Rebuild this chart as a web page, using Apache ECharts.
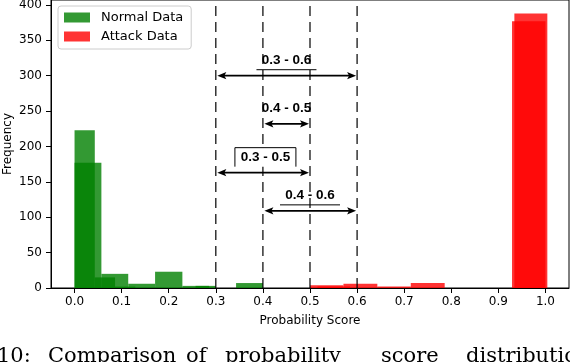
<!DOCTYPE html>
<html><head><meta charset="utf-8">
<script src="https://cdn.jsdelivr.net/npm/echarts@6/dist/echarts.min.js"></script>
<style>html,body{margin:0;padding:0;background:#fff}#c{width:570px;height:362px}</style>
</head><body><div id="c"></div>
<script>
// ---------- data ----------
const xTicks = [0.0, 0.1, 0.2, 0.3, 0.4, 0.5, 0.6, 0.7, 0.8, 0.9, 1.0];
const yTicks = [0, 50, 100, 150, 200, 250, 300, 350, 400];

const normalAEdges  = [0, 0.043, 0.086, 0.129, 0.171, 0.214, 0.257, 0.3];
const normalACounts = [223, 15, 2, 0, 0, 0, 3];
const normalBEdges  = [0, 0.057, 0.114, 0.171, 0.229, 0.286, 0.343, 0.4];
const normalBCounts = [177, 20, 6, 23, 3, 0, 7];

const attackAEdges  = [0.5, 0.571, 0.643, 0.714, 0.786, 0.857, 0.929, 1.0];
const attackACounts = [4, 6, 2, 7, 0, 0, 377];
const attackBEdges  = [0.516, 0.585, 0.655, 0.725, 0.794, 0.864, 0.934, 1.004];
const attackBCounts = [2, 0, 0, 0, 0, 0, 388];

const thresholds  = [0.3, 0.4, 0.5, 0.6];
const rangeStarts = [0.3, 0.4, 0.3, 0.4];
const rangeEnds   = [0.6, 0.5, 0.5, 0.6];
const rangeLevels = [300, 232, 163, 109];
const rangeLabels = ['0.3 - 0.6', '0.4 - 0.5', '0.3 - 0.5', '0.4 - 0.6'];
const rangeDecor  = ['underline', 'none', 'box', 'underline'];

const captionWords = ['10:', 'Comparison', 'of', 'probability', 'score', 'distributions'];

// ---------- layout / style ----------
const captionX = [-3, 48, 186, 225, 381, 466];
const FONT = '"DejaVu Sans", sans-serif';
const GREEN = 'rgba(0,128,0,0.8)';
const RED = 'rgba(255,0,0,0.8)';

function bins(edges, counts) {
  return counts.map((c, i) => [edges[i], edges[i + 1], c]).filter(d => d[2] > 0);
}
function histRender(color) {
  return function (params, api) {
    const a = api.coord([api.value(0), api.value(2)]);
    const b = api.coord([api.value(1), 0]);
    return { type: 'rect', shape: { x: a[0], y: a[1], width: b[0] - a[0], height: b[1] - a[1] },
             style: { fill: color } };
  };
}

const chart = echarts.init(document.getElementById('c'), null, { renderer: 'canvas' });
chart.setOption({
  animation: false,
  backgroundColor: '#fff',
  grid: { left: 51, right: 1, top: 0, bottom: 74, outerBoundsMode: 'none', containLabel: false,
          show: true, borderColor: '#000', borderWidth: 1, backgroundColor: 'transparent' },
  legend: {
    orient: 'vertical', left: 58, top: 6, padding: [5, 8, 6, 6], itemGap: 6,
    itemWidth: 26, itemHeight: 10,
    backgroundColor: 'rgba(255,255,255,0.8)', borderColor: '#cccccc', borderWidth: 1, borderRadius: 3,
    textStyle: { fontFamily: FONT, fontSize: 13, color: '#000', padding: [0, 0, 0, 6] },
    data: [
      { name: 'Normal Data', icon: 'rect', itemStyle: { color: GREEN } },
      { name: 'Attack Data', icon: 'rect', itemStyle: { color: RED } }
    ]
  },
  xAxis: {
    type: 'value', min: -0.05, max: 1.05,
    splitLine: { show: false },
    axisLine: { show: true, onZero: false, lineStyle: { color: '#000', width: 1 } },
    axisTick: { show: true, length: 5, customValues: xTicks, lineStyle: { color: '#000' } },
    axisLabel: { customValues: xTicks, formatter: v => v.toFixed(1), fontFamily: FONT, fontSize: 12, color: '#000', margin: 8 },
    name: 'Probability Score', nameLocation: 'middle', nameGap: 27, nameMoveOverlap: false,
    nameTextStyle: { fontFamily: FONT, fontSize: 12, color: '#000' }
  },
  yAxis: {
    type: 'value', min: 0, max: 407,
    splitLine: { show: false },
    axisLine: { show: true, onZero: false, lineStyle: { color: '#000', width: 1 } },
    axisTick: { show: true, length: 5, customValues: yTicks, lineStyle: { color: '#000' } },
    axisLabel: { customValues: yTicks, formatter: v => String(v), fontFamily: FONT, fontSize: 12, color: '#000', margin: 9 },
    name: 'Frequency', nameLocation: 'middle', nameGap: 37, nameMoveOverlap: false,
    nameTextStyle: { fontFamily: FONT, fontSize: 12, color: '#000' }
  },
  series: [
    { type: 'custom', name: 'Normal Data', renderItem: histRender(GREEN), itemStyle: { color: GREEN },
      encode: { x: [0, 1], y: 2 }, data: bins(normalAEdges, normalACounts).concat(bins(normalBEdges, normalBCounts)) },
    { type: 'custom', name: 'Attack Data', renderItem: histRender(RED), itemStyle: { color: RED },
      encode: { x: [0, 1], y: 2 }, data: bins(attackAEdges, attackACounts).concat(bins(attackBEdges, attackBCounts)) },
    { type: 'custom', name: 'thresholds', silent: true, encode: { x: 0, y: 1 },
      data: thresholds.map(t => [t, 0]),
      renderItem: function (params, api) {
        const x = api.coord([api.value(0), 0])[0];
        const cs = params.coordSys;
        return { type: 'line', shape: { x1: x, y1: cs.y + cs.height, x2: x, y2: cs.y },
                 style: { stroke: '#000', lineWidth: 1.2, lineDash: [10, 6] } };
      } },
    { type: 'custom', name: 'ranges', silent: true, encode: { x: [0, 1], y: 2 },
      data: rangeStarts.map((s, i) => [s, rangeEnds[i], rangeLevels[i]]),
      renderItem: function (params, api) {
        const i = params.dataIndex;
        const p0 = api.coord([api.value(0), api.value(2)]);
        const p1 = api.coord([api.value(1), api.value(2)]);
        const y = p0[1], xa = p0[0] + 1.5, xb = p1[0] - 1;
        const cx = (p0[0] + p1[0]) / 2;
        const hl = 9, hw = 3.6;
        const kids = [
          { type: 'line', shape: { x1: xa + 6, y1: y, x2: xb - 6, y2: y }, style: { stroke: '#000', lineWidth: 1.8 } },
          { type: 'polygon', shape: { points: [[xa, y], [xa + hl, y - hw], [xa + hl - 2, y], [xa + hl, y + hw]] }, style: { fill: '#000' } },
          { type: 'polygon', shape: { points: [[xb, y], [xb - hl, y - hw], [xb - hl + 2, y], [xb - hl, y + hw]] }, style: { fill: '#000' } }
        ];
        if (rangeDecor[i] === 'underline') {
          kids.push({ type: 'line', shape: { x1: cx - 30, y1: y - 6, x2: cx + 30, y2: y - 6 }, style: { stroke: '#000', lineWidth: 1 } });
        } else if (rangeDecor[i] === 'box') {
          const bx0 = cx - 28, bx1 = cx + 33, bt = y - 25, bb = y - 6;
          kids.push({ type: 'rect', shape: { x: bx0, y: bt, width: bx1 - bx0, height: bb - bt }, style: { fill: '#fff' } });
          kids.push({ type: 'polyline', shape: { points: [[bx0, bb], [bx0, bt], [bx1, bt], [bx1, bb]] }, style: { stroke: '#000', lineWidth: 1, fill: null } });
        }
        kids.push({ type: 'text', style: { x: cx + (rangeDecor[i] === 'box' ? 2.5 : 0), y: y - 15.5, text: rangeLabels[i], align: 'center', verticalAlign: 'middle',
                                           font: 'bold 13.5px "Liberation Sans", Arial, sans-serif', fill: '#000' } });
        return { type: 'group', children: kids };
      } }
  ],
  graphic: captionWords.map((w, i) => ({
    type: 'text', x: captionX[i], y: 367, silent: true,
    style: { text: w, font: '21px "DejaVu Serif", "Liberation Serif", serif', fill: '#000', verticalAlign: 'bottom' }
  }))
});
</script>
</body></html>
